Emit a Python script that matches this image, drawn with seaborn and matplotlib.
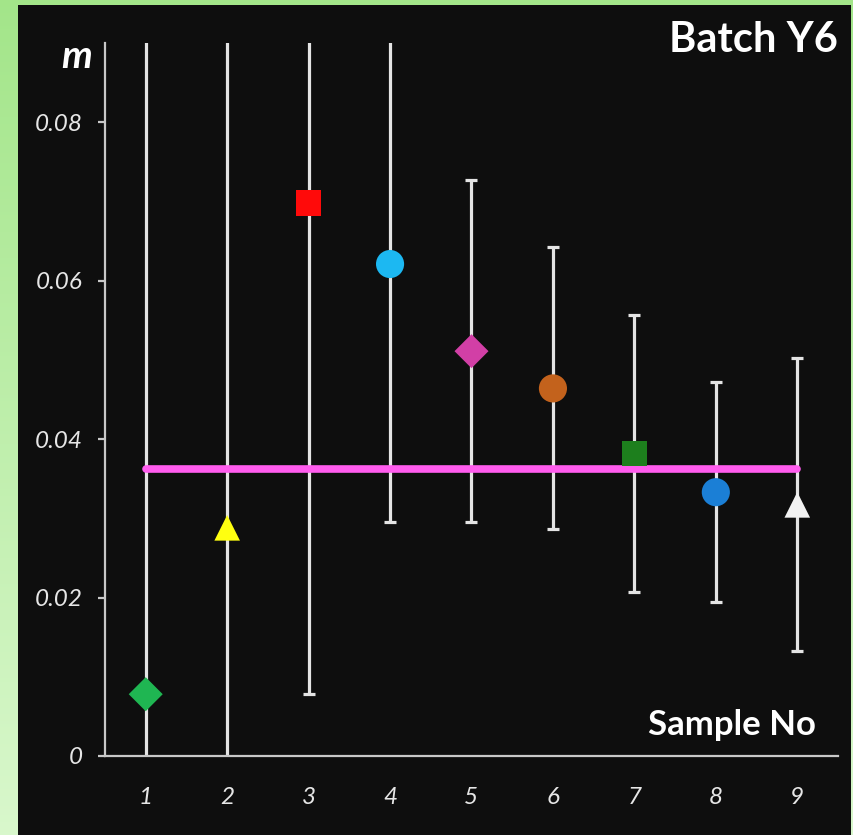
import numpy as np
import pandas as pd
import matplotlib
matplotlib.use("Agg")
import matplotlib.pyplot as plt
import seaborn as sns

# Sample numbers, measured m values and their uncertainties
samples = [1, 2, 3, 4, 5, 6, 7, 8, 9]
m_values = [0.0078, 0.0288, 0.0698, 0.0621, 0.0511, 0.0464, 0.0382, 0.0333, 0.0317]
m_errors = [0.100, 0.100, 0.0620, 0.0326, 0.0216, 0.0178, 0.0175, 0.0139, 0.0185]
mean_m = 0.0362

marker_colors = ["#1fb652", "#ffff10", "#ff0a0a", "#1cb8f2", "#d23fa6",
                 "#c3621c", "#1d7f1d", "#1b7fd6", "#f2f2f2"]
marker_shapes = ["D", "^", "s", "o", "D", "o", "s", "o", "^"]
marker_areas = [300, 340, 330, 410, 300, 410, 330, 410, 340]

y_ticks = [0, 0.02, 0.04, 0.06, 0.08]
y_tick_labels = ["0", "0.02", "0.04", "0.06", "0.08"]

df = pd.DataFrame({"sample": samples, "m": m_values, "err": m_errors})

sns.set_theme(style="dark")
plt.rcParams["font.family"] = ["Lato", "DejaVu Sans"]

W, H = 854, 835
fig = plt.figure(figsize=(W / 100, H / 100), dpi=100)

# green gradient frame
bg = fig.add_axes([0, 0, 1, 1])
bg.set_axis_off()
top = np.array([0.64, 0.90, 0.54])
bottom = np.array([0.85, 0.97, 0.80])
t = np.linspace(0, 1, 256)[:, None]
grad = top[None, :] * (1 - t) + bottom[None, :] * t
bg.imshow(grad[:, None, :].repeat(4, axis=1), aspect="auto", extent=[0, 1, 0, 1])
bg.set_xlim(0, 1)
bg.set_ylim(0, 1)

# black panel
panel = fig.add_axes([18 / W, 0, 833 / W, 830 / H])
panel.set_facecolor("#0e0e0e")
panel.set_xticks([])
panel.set_yticks([])
for s in panel.spines.values():
    s.set_visible(False)

ax = fig.add_axes([105 / W, 1 - 756 / H, (838 - 105) / W, (756 - 43) / H])
ax.set_facecolor("none")
ax.grid(False)

ax.errorbar(df["sample"], df["m"], yerr=df["err"], fmt="none",
            ecolor="#e4e4e4", elinewidth=2.3, capsize=4.3, capthick=2.3, zorder=2)

sns.lineplot(x=[samples[0], samples[-1]], y=[mean_m, mean_m], color="#ff5cee",
             linewidth=5.5, ax=ax, zorder=3)

sns.scatterplot(data=df, x="sample", y="m", hue="sample", style="sample", size="sample",
                palette=dict(zip(samples, marker_colors)),
                markers=dict(zip(samples, marker_shapes)),
                sizes=dict(zip(samples, marker_areas)),
                linewidth=0, legend=False, ax=ax, zorder=4)

ax.set_xlim(0.5, 9.5)
ax.set_ylim(0, 0.09)
ax.set_xticks(samples)
ax.set_xticklabels([str(s) for s in samples])
ax.set_yticks(y_ticks)
ax.set_yticklabels(y_tick_labels)
ax.set_xlabel("")
ax.set_ylabel("")

for side in ["top", "right"]:
    ax.spines[side].set_visible(False)
for side in ["left", "bottom"]:
    ax.spines[side].set_visible(True)
    ax.spines[side].set_color("#c8c8c8")
    ax.spines[side].set_linewidth(1.6)

ax.tick_params(axis="y", length=5, width=1.6, color="#c8c8c8", left=True,
               pad=11, labelsize=17.5, labelcolor="#e6e6e6")
ax.tick_params(axis="x", length=0, pad=22, labelsize=17.5, labelcolor="#e6e6e6")
for lab in ax.get_xticklabels() + ax.get_yticklabels():
    lab.set_fontstyle("italic")

fig.text(838 / W, 1 - 40 / H, "Batch Y6", ha="right", va="center",
         fontsize=30, fontweight="bold", color="white")
fig.text(816 / W, 1 - 725 / H, "Sample No", ha="right", va="center",
         fontsize=25, fontweight="bold", color="white")
fig.text(92 / W, 1 - 57 / H, "m", ha="right", va="center",
         fontsize=28, fontweight="bold", fontstyle="italic", color="white")

fig.savefig("out.png", dpi=100)
